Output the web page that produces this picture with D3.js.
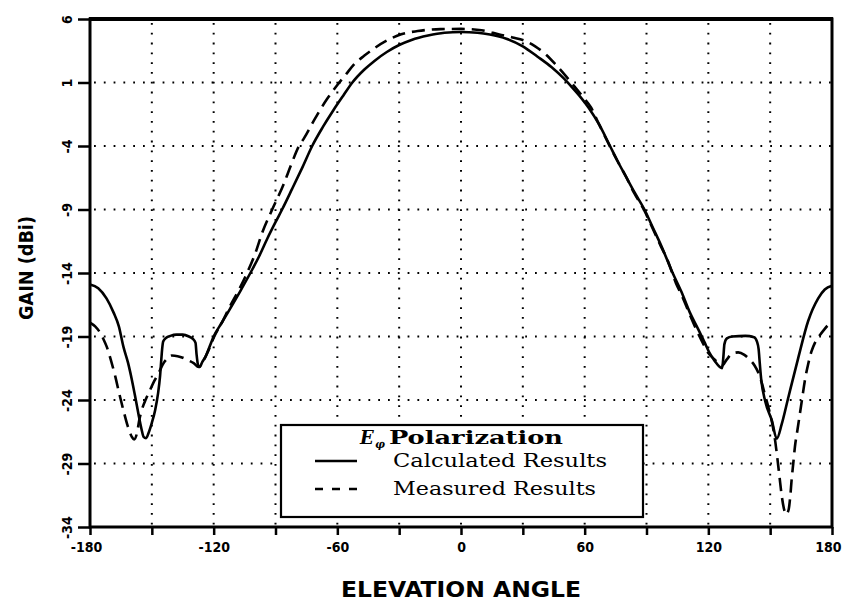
<!DOCTYPE html>
<html>
<head>
<meta charset="utf-8">
<script src="https://cdn.jsdelivr.net/npm/d3@7"></script>
<style>
  html, body { margin: 0; padding: 0; background: #fff; }
  svg { display: block; }
</style>
</head>
<body>
<svg id="chart" width="843" height="608"></svg>
<script>
// ---------------- data ----------------
const xTickValues = [-180, -150, -120, -90, -60, -30, 0, 30, 60, 90, 120, 150, 180];
const xTickLabels = ["-180", "", "-120", "", "-60", "", "0", "", "60", "", "120", "", "180"];
const yTickValues = [6, 1, -4, -9, -14, -19, -24, -29, -34];
const yTickLabels = ["6", "1", "-4", "-9", "-14", "-19", "-24", "-29", "-34"];

const calcAngles = [-180, -176, -172, -168.6, -166, -163.8, -161.5, -159.7, -158, -156.5, -155, -154, -152.8, -151.6, -150, -148.4, -147, -146, -145.4, -145, -144.5, -143, -141, -138, -135, -132, -130, -128.8, -128.3, -127.5, -126.8, -125.5, -124, -122, -120, -116, -112, -107, -102.2, -98, -94, -90, -86.8, -82, -77, -72.2, -67, -62, -57, -52.7, -47, -42, -36, -30, -24, -16, -8, 0, 8, 14, 22, 30, 37, 44, 50, 54, 58, 62, 67, 72, 76, 80, 84, 89, 93, 97, 102.7, 107, 111, 115, 118, 120.3, 123, 126.7, 127.3, 127.8, 129, 131.6, 138, 142.2, 143.6, 144.4, 145, 145.6, 147.6, 150.8, 153.2, 155.6, 158.8, 163.6, 168.4, 173.3, 176.5, 180];
const calcGain = [-14.9, -15.2, -16.0, -17.1, -18.2, -19.8, -21.1, -22.4, -23.8, -25.1, -26.3, -26.9, -27.0, -26.6, -25.8, -24.8, -23.5, -22.1, -20.8, -20.0, -19.4, -19.1, -18.95, -18.85, -18.85, -19.0, -19.2, -19.5, -20.4, -21.3, -21.4, -21.0, -20.6, -19.8, -19.0, -17.9, -16.8, -15.4, -14.0, -12.7, -11.3, -10.0, -9.0, -7.4, -5.7, -4.0, -2.5, -1.2, 0.0, 1.0, 2.0, 2.7, 3.4, 3.95, 4.35, 4.7, 4.92, 4.98, 4.92, 4.78, 4.45, 3.85, 3.05, 2.2, 1.3, 0.6, -0.15, -1.0, -2.3, -3.9, -5.2, -6.4, -7.6, -9.0, -10.4, -11.8, -14.0, -15.5, -17.1, -18.4, -19.4, -20.2, -20.9, -21.5, -20.6, -19.6, -19.15, -19.0, -18.95, -19.05, -19.4, -20.0, -21.2, -22.3, -24.1, -25.6, -27.05, -25.9, -23.8, -20.7, -17.8, -16.0, -15.3, -15.0];

const measAngles = [-180, -177.5, -175.1, -173.5, -171.9, -169.8, -167.8, -165.8, -163.8, -161.8, -159.7, -158.6, -157.2, -156, -154.9, -152.8, -150.8, -148.8, -146.8, -144.3, -142.3, -140.3, -137.5, -134.6, -132, -129.7, -127.3, -125, -122, -120, -116, -112, -108, -103.8, -99.7, -96.5, -91.6, -86, -82.7, -78.6, -76.2, -71.4, -65, -60, -56, -52, -47, -42, -36, -29, -21, -10, 0, 10, 18.6, 25, 31.5, 36, 41.2, 46, 50.9, 55, 59, 63, 67, 72, 76, 80, 84, 89, 93, 97, 100, 104.3, 107.5, 110.8, 114, 117, 120, 123, 126.5, 129, 131.5, 134.5, 137.5, 140, 142.5, 144.4, 146, 147.5, 149.5, 151.2, 152.5, 153.5, 154.5, 155.5, 156.6, 157.8, 159, 159.8, 160.4, 161.2, 162, 163.2, 164.4, 165.6, 166.8, 168.4, 170, 172, 174.1, 176, 178.1, 180];
const measGain = [-17.9, -18.2, -18.7, -19.2, -19.8, -20.9, -22.1, -23.5, -24.8, -26.0, -26.9, -27.1, -26.6, -25.5, -24.8, -23.9, -23.2, -22.5, -21.9, -21.1, -20.7, -20.5, -20.55, -20.7, -20.9, -21.1, -21.4, -20.9, -19.9, -19.1, -17.9, -16.6, -15.4, -14.0, -12.4, -10.85, -9.0, -7.0, -5.6, -4.0, -3.4, -2.0, -0.3, 0.8, 1.6, 2.4, 3.1, 3.7, 4.3, 4.8, 5.05, 5.2, 5.22, 5.12, 4.78, 4.55, 4.25, 3.85, 3.2, 2.4, 1.5, 0.7, -0.1, -0.95, -2.3, -3.95, -5.2, -6.4, -7.7, -9.1, -10.5, -11.9, -12.9, -14.8, -15.9, -17.2, -18.4, -19.4, -20.3, -20.8, -21.3, -20.8, -20.35, -20.25, -20.45, -20.8, -21.3, -21.9, -22.7, -23.6, -24.8, -26.0, -27.3, -28.6, -30.0, -31.4, -32.5, -33.0, -32.6, -31.5, -30.3, -29.0, -27.7, -26.4, -25.1, -23.8, -22.5, -21.2, -20.2, -19.4, -18.9, -18.5, -18.1, -17.9];

const legendTitle = "Polarization";
const seriesNames = ["Calculated Results", "Measured Results"];
const xAxisTitle = "ELEVATION ANGLE";
const yAxisTitle = "GAIN (dBi)";

// ---------------- layout ----------------
const W = 843, H = 608;
const margin = { left: 90, right: 11, top: 19, bottom: 81 };
const pw = W - margin.left - margin.right;
const ph = H - margin.top - margin.bottom;

const svg = d3.select("#chart");
const g = svg.append("g").attr("transform", `translate(${margin.left},${margin.top})`);

const x = d3.scaleLinear().domain([-180, 180]).range([0, pw]);
const y = d3.scaleLinear().domain([-34, 6]).range([ph, 0]);

const tickFont = "'DejaVu Sans Condensed', 'DejaVu Sans', sans-serif";

// grid
const gridX = xTickValues.filter(v => v > -180 && v < 180);
const gridY = yTickValues.filter(v => v > -34 && v < 6);
g.append("g").selectAll("line").data(gridX).join("line")
  .attr("x1", d => x(d)).attr("x2", d => x(d))
  .attr("y1", 0).attr("y2", ph)
  .attr("stroke", "#000").attr("stroke-width", 2)
  .attr("stroke-dasharray", "1.8,8").attr("stroke-dashoffset", -4);
g.append("g").selectAll("line").data(gridY).join("line")
  .attr("y1", d => y(d)).attr("y2", d => y(d))
  .attr("x1", 0).attr("x2", pw)
  .attr("stroke", "#000").attr("stroke-width", 2)
  .attr("stroke-dasharray", "1.8,8").attr("stroke-dashoffset", -4);

// curves
const calc = calcAngles.map((a, i) => [a, calcGain[i]]);
const meas = measAngles.map((a, i) => [a, measGain[i]]);
const line = d3.line().x(d => x(d[0])).y(d => y(d[1])).curve(d3.curveMonotoneX);

g.append("path").datum(meas).attr("d", line)
  .attr("fill", "none").attr("stroke", "#000").attr("stroke-width", 2.6)
  .attr("stroke-dasharray", "13,7");
g.append("path").datum(calc).attr("d", line)
  .attr("fill", "none").attr("stroke", "#000").attr("stroke-width", 2.6);

// axes
const xAxis = d3.axisBottom(x).tickValues(xTickValues)
  .tickFormat((d, i) => xTickLabels[i]).tickSize(8).tickPadding(14);
const gx = g.append("g").attr("transform", `translate(0,${ph})`).call(xAxis);
gx.select(".domain").remove();
gx.selectAll(".tick line").attr("stroke-width", 2.5);
gx.selectAll(".tick text").attr("font-family", tickFont).attr("font-weight", "bold")
  .attr("font-size", 14).attr("fill", "#000").attr("dy", "0.2em");
// keep the end labels inside the picture, as in the reference
gx.selectAll(".tick text").filter(d => d === 180).attr("text-anchor", "end").attr("x", 9);
gx.selectAll(".tick text").filter(d => d === -180).attr("x", -4);

const yAxis = d3.axisLeft(y).tickValues(yTickValues)
  .tickFormat((d, i) => yTickLabels[i]).tickSize(12);
const gy = g.append("g").call(yAxis);
gy.select(".domain").remove();
gy.selectAll(".tick line").attr("stroke-width", 2.5);
gy.selectAll(".tick text")
  .attr("x", 0).attr("dy", "0.35em")
  .attr("transform", "translate(-23,0) rotate(-90)")
  .attr("text-anchor", "middle")
  .attr("font-family", tickFont).attr("font-weight", "bold")
  .attr("font-size", 14).attr("fill", "#000");

// frame
g.append("rect").attr("x", 0).attr("y", 0).attr("width", pw).attr("height", ph)
  .attr("fill", "none").attr("stroke", "#000").attr("stroke-width", 3);
g.append("line").attr("x1", -1).attr("x2", pw + 1).attr("y1", 0).attr("y2", 0)
  .attr("stroke", "#000").attr("stroke-width", 4);

// axis titles
svg.append("text").attr("x", margin.left + x(0)).attr("y", 597)
  .attr("text-anchor", "middle").attr("font-family", tickFont)
  .attr("font-size", 22).attr("font-weight", "bold")
  .attr("textLength", 240).attr("lengthAdjust", "spacingAndGlyphs")
  .text(xAxisTitle);
svg.append("text").attr("transform", "translate(33,268) rotate(-90)")
  .attr("text-anchor", "middle").attr("font-family", tickFont)
  .attr("font-size", 20).attr("font-weight", "bold")
  .attr("textLength", 104).attr("lengthAdjust", "spacingAndGlyphs")
  .text(yAxisTitle);

// legend
const lg = svg.append("g");
const lx0 = 281, ly0 = 425, lw = 362, lh = 92;
lg.append("rect").attr("x", lx0).attr("y", ly0).attr("width", lw).attr("height", lh)
  .attr("fill", "#fff").attr("stroke", "#000").attr("stroke-width", 2.2);
const serif = "'DejaVu Serif', 'Liberation Serif', serif";
lg.append("text").attr("x", 360).attr("y", 444)
  .attr("font-family", serif).attr("font-size", 18).attr("font-weight", "bold")
  .attr("font-style", "italic").text("E");
lg.append("text").attr("x", 375).attr("y", 448)
  .attr("font-family", serif).attr("font-size", 11).attr("font-weight", "bold")
  .attr("font-style", "italic").text("φ");
lg.append("text").attr("x", 389).attr("y", 444)
  .attr("font-family", serif).attr("font-size", 18).attr("font-weight", "bold")
  .attr("textLength", 174).attr("lengthAdjust", "spacingAndGlyphs")
  .text(legendTitle);

const rowY = [461, 489];
const rowLen = [214, 203];
lg.append("line").attr("x1", 315).attr("x2", 357).attr("y1", rowY[0]).attr("y2", rowY[0])
  .attr("stroke", "#000").attr("stroke-width", 2.6);
lg.append("line").attr("x1", 315).attr("x2", 357).attr("y1", rowY[1]).attr("y2", rowY[1])
  .attr("stroke", "#000").attr("stroke-width", 2.6).attr("stroke-dasharray", "8,9");
seriesNames.forEach((s, i) => {
  lg.append("text").attr("x", 393).attr("y", rowY[i] + 6)
    .attr("font-family", serif).attr("font-size", 18).attr("fill", "#000")
    .attr("textLength", rowLen[i]).attr("lengthAdjust", "spacingAndGlyphs")
    .text(s);
});
</script>
</body>
</html>
